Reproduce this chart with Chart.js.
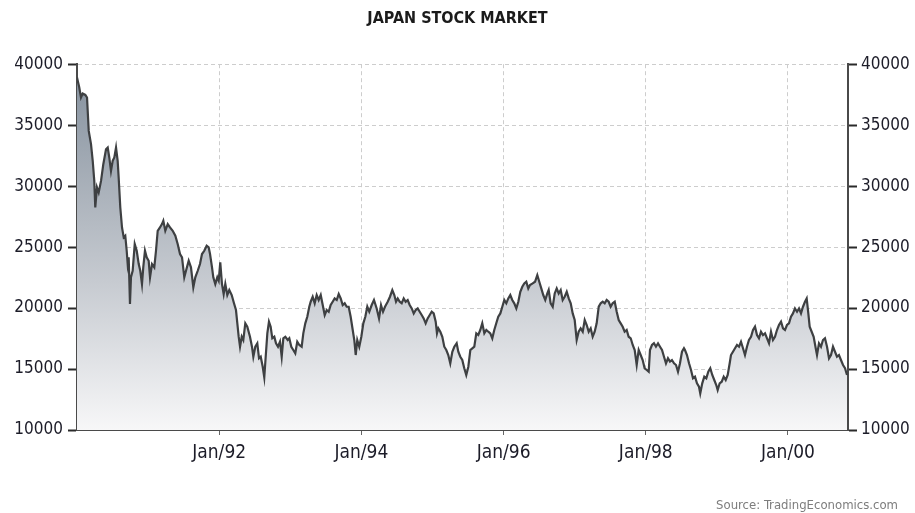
<!DOCTYPE html>
<html>
<head>
<meta charset="utf-8">
<title>Japan Stock Market</title>
<script src="https://cdn.jsdelivr.net/npm/chart.js@4/dist/chart.umd.min.js"></script>
<style>
  html, body { margin: 0; padding: 0; background: #ffffff; }
  #wrap { width: 915px; height: 513px; }
</style>
</head>
<body>
<div id="wrap"><canvas id="chart" width="915" height="513"></canvas></div>
<script>
// Nikkei 225 closing levels, Jan 1990 – late 2000
const START_YEAR = 1990;
const END_YEAR = 2000.844;

// time of each close, in years after January 1990
const yearOffsets = [
  0.000, 0.032, 0.056, 0.080, 0.117, 0.141, 0.165, 0.197, 0.221, 0.243,
  0.257, 0.281, 0.305, 0.338, 0.370, 0.408, 0.432, 0.454, 0.478, 0.502,
  0.525, 0.549, 0.572, 0.586, 0.609, 0.633, 0.657, 0.679, 0.699, 0.713,
  0.727, 0.745, 0.759, 0.783, 0.812, 0.840, 0.868, 0.890, 0.914, 0.932,
  0.956, 0.980, 1.008, 1.027, 1.055, 1.087, 1.111, 1.135, 1.167, 1.195,
  1.214, 1.242, 1.276, 1.308, 1.346, 1.383, 1.416, 1.449, 1.477, 1.509,
  1.533, 1.571, 1.603, 1.636, 1.664, 1.698, 1.730, 1.758, 1.790, 1.824,
  1.852, 1.871, 1.899, 1.917, 1.945, 1.973, 1.993, 2.015, 2.039, 2.063,
  2.086, 2.114, 2.142, 2.176, 2.208, 2.236, 2.255, 2.274, 2.293, 2.317,
  2.339, 2.367, 2.395, 2.433, 2.461, 2.480, 2.508, 2.536, 2.560, 2.584,
  2.612, 2.634, 2.654, 2.677, 2.700, 2.724, 2.747, 2.775, 2.799, 2.827,
  2.855, 2.879, 2.902, 2.930, 2.963, 2.986, 3.014, 3.042, 3.070, 3.098,
  3.127, 3.160, 3.183, 3.211, 3.239, 3.267, 3.287, 3.315, 3.343, 3.371,
  3.399, 3.428, 3.456, 3.484, 3.512, 3.540, 3.568, 3.596, 3.624, 3.653,
  3.681, 3.709, 3.737, 3.765, 3.793, 3.821, 3.849, 3.878, 3.900, 3.920,
  3.942, 3.970, 3.999, 4.027, 4.055, 4.083, 4.111, 4.145, 4.177, 4.215,
  4.248, 4.276, 4.304, 4.332, 4.370, 4.402, 4.435, 4.463, 4.487, 4.511,
  4.539, 4.567, 4.595, 4.623, 4.651, 4.679, 4.708, 4.736, 4.764, 4.792,
  4.820, 4.848, 4.876, 4.904, 4.932, 4.961, 4.989, 5.017, 5.045, 5.063,
  5.082, 5.110, 5.138, 5.166, 5.194, 5.222, 5.250, 5.279, 5.307, 5.340,
  5.363, 5.391, 5.419, 5.447, 5.475, 5.504, 5.532, 5.560, 5.588, 5.616,
  5.644, 5.672, 5.700, 5.729, 5.757, 5.785, 5.813, 5.841, 5.869, 5.897,
  5.925, 5.954, 5.982, 6.010, 6.038, 6.066, 6.094, 6.122, 6.150, 6.179,
  6.207, 6.235, 6.263, 6.291, 6.319, 6.347, 6.371, 6.409, 6.442, 6.474,
  6.502, 6.530, 6.558, 6.586, 6.615, 6.634, 6.662, 6.691, 6.719, 6.747,
  6.775, 6.803, 6.831, 6.859, 6.888, 6.916, 6.944, 6.972, 7.000, 7.028,
  7.056, 7.084, 7.113, 7.141, 7.169, 7.197, 7.225, 7.253, 7.281, 7.309,
  7.338, 7.366, 7.394, 7.422, 7.450, 7.478, 7.506, 7.534, 7.563, 7.591,
  7.619, 7.647, 7.675, 7.703, 7.731, 7.759, 7.788, 7.816, 7.844, 7.872,
  7.900, 7.928, 7.956, 7.984, 8.013, 8.041, 8.059, 8.087, 8.115, 8.143,
  8.172, 8.200, 8.228, 8.256, 8.284, 8.312, 8.340, 8.368, 8.397, 8.425,
  8.453, 8.481, 8.509, 8.537, 8.551, 8.579, 8.608, 8.636, 8.664, 8.692,
  8.720, 8.748, 8.766, 8.794, 8.823, 8.851, 8.879, 8.907, 8.935, 8.963,
  8.991, 9.011, 9.039, 9.068, 9.096, 9.124, 9.152, 9.180, 9.198, 9.226,
  9.255, 9.283, 9.311, 9.339, 9.367, 9.395, 9.423, 9.451, 9.480, 9.508,
  9.536, 9.564, 9.592, 9.620, 9.648, 9.677, 9.705, 9.733, 9.761, 9.789,
  9.817, 9.845, 9.873, 9.902, 9.930, 9.958, 9.986, 10.014, 10.042, 10.070,
  10.098, 10.127, 10.155, 10.183, 10.211, 10.239, 10.263, 10.286, 10.305, 10.333,
  10.361, 10.390, 10.408, 10.436, 10.464, 10.492, 10.520, 10.549, 10.577, 10.605,
  10.633, 10.661, 10.689, 10.717, 10.745, 10.774, 10.802, 10.830
];

// index level at each of those times
const closes = [
  38900, 38090, 37270, 37600, 37480, 37270, 34530, 33440, 32080, 30430,
  28250, 29900, 29480, 30430, 31800, 33030, 33170, 32350, 31250, 32080,
  32350, 33170, 32080, 30710, 28250, 26610, 25790, 25930, 24700, 23610,
  24160, 20330, 22520, 23060, 25250, 24700, 23610, 23060, 21970, 23340,
  24700, 24160, 23880, 22520, 23610, 23340, 24700, 26340, 26610, 26890,
  27160, 26340, 26890, 26610, 26340, 25930, 25250, 24430, 24160, 22520,
  23060, 23880, 23340, 21700, 22520, 23060, 23610, 24430, 24700, 25110,
  24980, 24430, 23340, 22520, 21970, 22520, 22240, 23750, 21970, 21150,
  21970, 21070, 21480, 21070, 20390, 19840, 18750, 17650, 16830, 17650,
  17380, 18750, 18470, 17650, 16830, 16010, 16830, 17110, 15880, 16010,
  15190, 14320, 16010, 17930, 18880, 18470, 17520, 17650, 17110, 16830,
  17240, 16010, 17520, 17650, 17380, 17520, 16830, 16560, 16290, 17240,
  16970, 16830, 17930, 18750, 19290, 20110, 20520, 20930, 20390, 21070,
  20660, 21070, 20250, 19430, 19840, 19700, 20250, 20520, 20790, 20660,
  21150, 20790, 20250, 20390, 20110, 20110, 19290, 18200, 17380, 16150,
  17380, 16830, 17650, 18750, 19290, 20110, 19700, 20250, 20660, 19970,
  19150, 20250, 19700, 20110, 20520, 20930, 21480, 21070, 20520, 20790,
  20520, 20390, 20790, 20520, 20660, 20250, 19970, 19560, 19840, 19970,
  19700, 19430, 19150, 18750, 19150, 19430, 19700, 19560, 18880, 17930,
  18340, 18060, 17650, 16830, 16560, 16150, 15470, 16420, 16830, 17110,
  16420, 16010, 15740, 15060, 14510, 15190, 16560, 16700, 16830, 17930,
  17790, 18200, 18750, 17930, 18200, 18060, 17930, 17520, 18200, 18750,
  19290, 19560, 20110, 20660, 20390, 20790, 21070, 20660, 20390, 19970,
  20520, 21340, 21750, 22020, 22160, 21610, 21890, 22020, 22160, 22710,
  22160, 21610, 21070, 20660, 21200, 21480, 20390, 20110, 21200, 21610,
  21200, 21480, 20660, 20930, 21340, 20790, 20390, 19560, 19020, 17380,
  18060, 18340, 18060, 19020, 18610, 18060, 18340, 17650, 18060, 18750,
  20110, 20390, 20520, 20390, 20660, 20520, 20110, 20390, 20520, 19700,
  19020, 18750, 18470, 18060, 18200, 17650, 17520, 16970, 16560, 15330,
  16560, 16150, 15740, 15060, 14920, 14780, 16560, 16970, 17110, 16830,
  17110, 16830, 16560, 16010, 15470, 15880, 15610, 15740, 15470, 15330,
  14780, 15470, 16420, 16700, 16560, 16150, 15470, 14920, 14240, 14370,
  13830, 13550, 13000, 13830, 14370, 14240, 14780, 15060, 14510, 14100,
  13690, 13280, 13830, 13960, 14370, 14100, 14510, 15470, 16150, 16420,
  16700, 16970, 16830, 17240, 16700, 16150, 16830, 17380, 17650, 18200,
  18470, 17790, 17520, 18060, 17790, 17930, 17520, 17110, 18060, 17380,
  17650, 18200, 18610, 18880, 18340, 18200, 18610, 18750, 19290, 19560,
  19970, 19700, 19970, 19560, 20110, 20520, 20790, 19560, 18470, 18060,
  17650, 16700, 16150, 17110, 16830, 17380, 17520, 16830, 15880, 16150,
  16830, 16420, 16010, 16150, 15740, 15330, 15060, 14510
];

// horizontal axis labels and where they sit
const xTickYears = [1992, 1994, 1996, 1998, 2000];
const xTickLabels = ['Jan/92', 'Jan/94', 'Jan/96', 'Jan/98', 'Jan/00'];

// vertical axis range
const yMin = 10000;
const yMax = 40000;
const yStep = 5000;

const chartTitle = 'JAPAN STOCK MARKET';
const sourceNote = 'Source: TradingEconomics.com';

const FONT = "'DejaVu Sans Condensed', 'DejaVu Sans', sans-serif";

const points = yearOffsets.map((t, i) => ({ x: START_YEAR + t, y: closes[i] }));

function areaGradient(context) {
  const { ctx, chartArea } = context.chart;
  if (!chartArea) return 'rgba(140,150,162,0.6)';
  const g = ctx.createLinearGradient(0, chartArea.top, 0, chartArea.bottom);
  g.addColorStop(0, '#838f9c');
  g.addColorStop(0.6, '#c7cbd1');
  g.addColorStop(1, '#f7f7f8');
  return g;
}

const sourcePlugin = {
  id: 'sourceNote',
  afterDraw(chart) {
    const ctx = chart.ctx;
    ctx.save();
    ctx.font = '13px ' + FONT;
    ctx.fillStyle = '#7d7d7d';
    ctx.textAlign = 'right';
    ctx.textBaseline = 'alphabetic';
    ctx.fillText(sourceNote, 898, 509);
    ctx.restore();
  }
};

const yTickFont = { family: FONT, size: 17 };
const xTickFont = { family: FONT, size: 19 };
const plainNumber = value => String(value);

new Chart(document.getElementById('chart'), {
  type: 'line',
  data: {
    datasets: [{
      data: points,
      borderColor: '#3e4042',
      borderWidth: 2.2,
      pointRadius: 0,
      tension: 0,
      fill: 'start',
      backgroundColor: areaGradient
    }]
  },
  options: {
    responsive: false,
    animation: false,
    devicePixelRatio: 1,
    parsing: false,
    layout: { padding: 0 },
    plugins: {
      legend: { display: false },
      tooltip: { enabled: false },
      title: {
        display: true,
        text: chartTitle,
        color: '#1b1b1b',
        font: { family: FONT, size: 16, weight: 'bold', lineHeight: 1.2 },
        padding: { top: 9, bottom: 36 }
      }
    },
    scales: {
      x: {
        type: 'linear',
        position: 'bottom',
        min: START_YEAR,
        max: END_YEAR,
        afterBuildTicks(scale) {
          scale.ticks = xTickYears.map(v => ({ value: v }));
        },
        afterFit(scale) { scale.height = 83; },
        ticks: {
          autoSkip: false,
          maxRotation: 0,
          padding: 7,
          color: '#1c1c28',
          font: xTickFont,
          callback(value) {
            const i = xTickYears.indexOf(value);
            return i >= 0 ? xTickLabels[i] : '';
          }
        },
        grid: {
          color: '#cdcdcd',
          lineWidth: 1,
          tickLength: 5,
          tickColor: '#666666',
          tickWidth: 1
        },
        border: { display: true, color: '#4a4a4a', width: 2, dash: [4, 3] }
      },
      y: {
        position: 'left',
        min: yMin,
        max: yMax,
        afterFit(scale) { scale.width = 77; },
        ticks: {
          stepSize: yStep,
          padding: 5,
          color: '#1c1c28',
          font: yTickFont,
          callback: plainNumber
        },
        grid: {
          color: '#cdcdcd',
          lineWidth: 1,
          tickLength: 9,
          tickColor: '#2a2a2a',
          tickWidth: 2
        },
        border: { display: true, color: '#4a4a4a', width: 2, dash: [4, 3] }
      },
      y2: {
        position: 'right',
        min: yMin,
        max: yMax,
        afterFit(scale) { scale.width = 67; },
        ticks: {
          stepSize: yStep,
          padding: 4,
          color: '#1c1c28',
          font: yTickFont,
          callback: plainNumber
        },
        grid: {
          drawOnChartArea: false,
          tickLength: 9,
          tickColor: '#2a2a2a',
          tickWidth: 2
        },
        border: { display: true, color: '#4a4a4a', width: 2 }
      }
    }
  },
  plugins: [sourcePlugin]
});
</script>
</body>
</html>
